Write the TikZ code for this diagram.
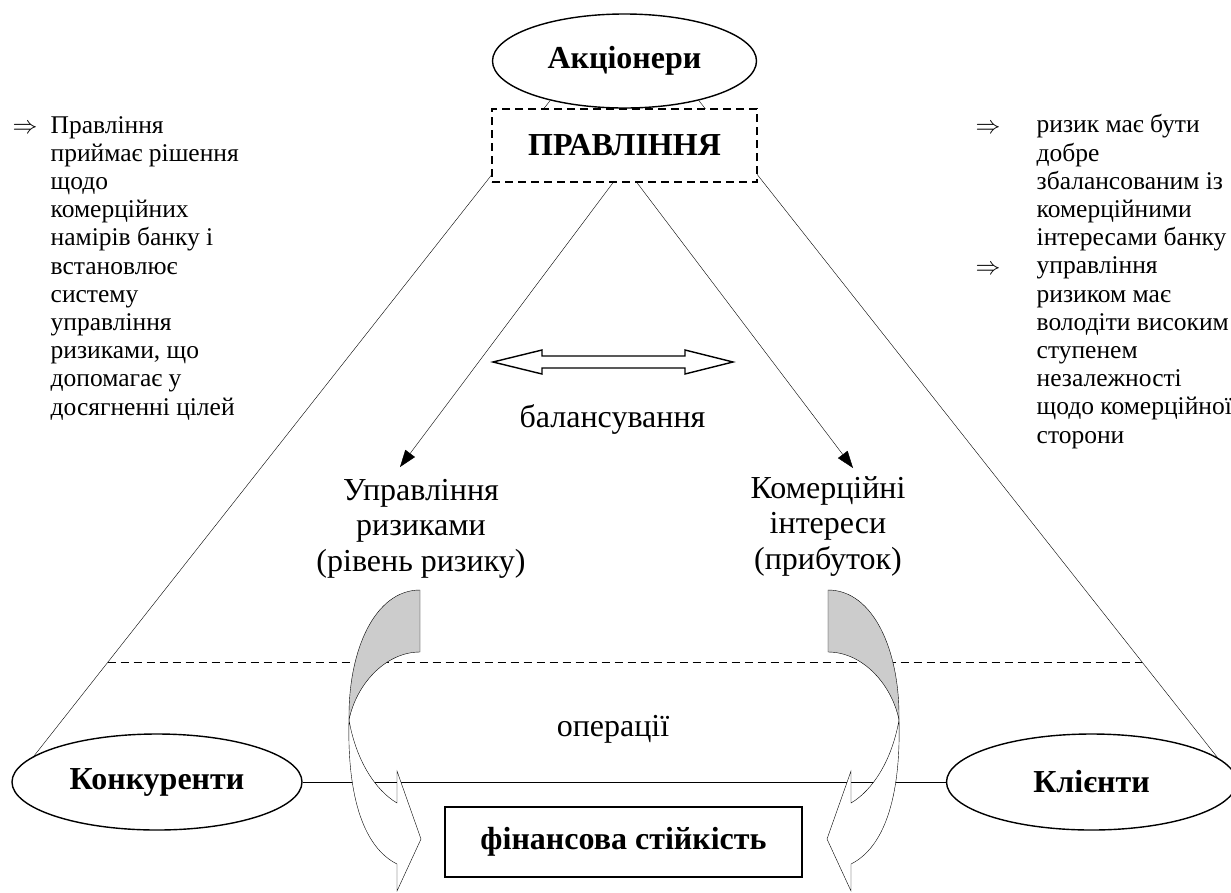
\documentclass[tikz,border=0pt]{standalone}
\usepackage{fontspec}
\setmainfont{Liberation Serif}
\usetikzlibrary{arrows.meta,shapes.geometric}
\pgfdeclarelayer{bg}
\pgfsetlayers{bg,main}
\begin{document}
\begin{tikzpicture}[x=1pt,y=-1pt,
  line width=1.4pt,
  small/.style={font=\fontsize{25.5}{28.2}\selectfont, inner sep=0pt, align=left},
  big/.style={font=\fontsize{32}{35.5}\selectfont, inner sep=0pt, align=center},
  boldlbl/.style={font=\fontsize{32}{36}\selectfont\bfseries},
  oval/.style={ellipse, draw, fill=white, inner sep=0pt, boldlbl},
  dsh/.style={dash pattern=on 8pt off 5pt},
  ptr/.style={-{Triangle[length=17pt,width=12pt]}},
  curvarr/.pic={
    \filldraw[fill=gray!40] (420,590) .. controls (375,590) and (348,650) .. (349,720)
       .. controls (356,685) and (385,652) .. (420,652) -- cycle;
    \filldraw[fill=white] (349,720) .. controls (347,800) and (365,848) .. (397,864)
       -- (397,891) -- (421,839) -- (397,771) -- (397,803)
       .. controls (375,790) and (356,760) .. (349,720) -- cycle;
  }
]
\useasboundingbox (0,0) rectangle (1231,892);

% nodes
\node[oval, minimum width=264, minimum height=94] (akc) at (624.5,61) {Акціонери};
\node[draw, dsh, fill=white, minimum width=265, minimum height=73, inner sep=0pt, boldlbl] (prav) at (624.5,145.5) {ПРАВЛІННЯ};
\node[oval, minimum width=290, minimum height=96] (konk) at (157,782) {Конкуренти};
\node[oval, minimum width=290, minimum height=96] (klnt) at (1091.5,782) {Клієнти};
\node[draw, fill=white, minimum width=357, minimum height=70, inner sep=0pt, boldlbl] (fin) at (623.5,842) {фінансова стійкість};

\node[big, anchor=base] (uprav) at (421,571) {Управління\\ризиками\\(рівень ризику)};
\node[big, anchor=base] (komer) at (828,569) {Комерційні\\інтереси\\(прибуток)};
\node[big, anchor=base] (bal) at (612.5,427) {балансування};
\node[big, anchor=base] (oper) at (613,736) {операції};

\node[small, anchor=base] (arrL) at (25,133) {$\Rightarrow$};
\node[small, anchor=base west] (txtL) at (50,415) {Правління\\приймає рішення\\щодо\\комерційних\\намірів банку і\\встановлює\\систему\\управління\\ризиками, що\\допомагає у\\досягненні цілей};

\node[small, anchor=base] (arrR1) at (988,133) {$\Rightarrow$};
\node[small, anchor=base] (arrR2) at (988,274) {$\Rightarrow$};
\node[small, anchor=base west] (txtR) at (1036,443) {ризик має бути\\добре\\збалансованим із\\комерційними\\інтересами банку\\управління\\ризиком має\\володіти високим\\ступенем\\незалежності\\щодо комерційної\\сторони};

% double arrow (balancing)
\draw (493,362) -- (542,350) -- (542,356) -- (685,356) -- (685,350) -- (733,362)
  -- (685,374) -- (685,368) -- (542,368) -- (542,374) -- cycle;

\coordinate (tipL) at (400,467);
\coordinate (tipR) at (853,468);
\coordinate (dL) at (107.5,662);
\coordinate (dR) at (1141.5,662);

\begin{pgfonlayer}{bg}
  \draw (konk.168.7) -- (akc.208);
  \draw (klnt.11.3) -- (akc.332);
  \draw (konk.east) -- (klnt.west);
  \draw[dsh] (dL) -- (dR);
\end{pgfonlayer}

\draw[ptr] ([xshift=-11.5pt]prav.south) -- (tipL);
\draw[ptr] ([xshift=12.5pt]prav.south) -- (tipR);

\pic at (0,0) {curvarr};
\pic[xscale=-1] at (1248,0) {curvarr};
\end{tikzpicture}
\end{document}
